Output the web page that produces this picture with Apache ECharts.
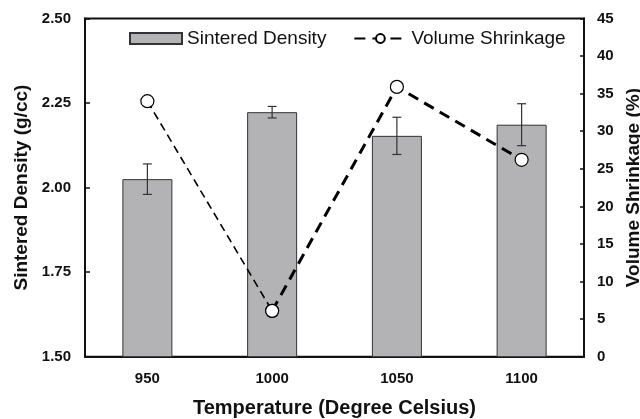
<!DOCTYPE html>
<html>
<head>
<meta charset="utf-8">
<script src="https://cdn.jsdelivr.net/npm/echarts@6/dist/echarts.min.js"></script>
<style>
  html, body { margin: 0; padding: 0; background: #fff; }
  #chart { width: 640px; height: 419px; }
</style>
</head>
<body>
<div id="chart"></div>
<script>
// Sintering temperatures (°C)
const temperatures = ['950', '1000', '1050', '1100'];
// Sintered density (g/cc) and its standard deviation
const density = [2.025, 2.223, 2.153, 2.186];
const densityErr = [0.045, 0.017, 0.055, 0.062];
// Volume shrinkage (%)
const shrinkage = [34.0, 6.1, 35.9, 26.2];

const FONT = '"Liberation Sans", Arial, Helvetica, sans-serif';

// Shrinkage line is drawn in two parts: a thin dashed first leg, heavier dashes after
const shrinkFirstLeg = shrinkage.map((v, i) => (i <= 1 ? v : null));
const shrinkRest = shrinkage.map((v, i) => (i >= 1 ? v : null));

const errorData = density.map((v, i) => [i, v - densityErr[i], v + densityErr[i]]);

const chart = echarts.init(document.getElementById('chart'), null, { renderer: 'canvas' });

const markerStyle = { color: '#fff', borderColor: '#000', borderWidth: 1.2 };

chart.setOption({
  backgroundColor: '#fff',
  animation: false,
  textStyle: { fontFamily: FONT },
  grid: {
    left: 85, right: 56, top: 18.5, bottom: 62.3,
    outerBoundsMode: 'none',
    containLabel: false,
    show: true, borderColor: '#111', borderWidth: 2, backgroundColor: 'transparent'
  },
  legend: {
    left: 124, top: 24,
    itemWidth: 52, itemHeight: 11, itemGap: 27,
    textStyle: { fontFamily: FONT, fontSize: 19, color: '#111' },
    data: [
      { name: 'Sintered Density', icon: 'rect' },
      { name: 'Volume Shrinkage' }
    ]
  },
  xAxis: {
    type: 'category',
    data: temperatures,
    name: 'Temperature (Degree Celsius)',
    nameLocation: 'middle',
    nameGap: 42,
    nameTextStyle: { fontFamily: FONT, fontSize: 20, fontWeight: 'bold', color: '#111' },
    axisLine: { lineStyle: { color: '#111', width: 2 } },
    axisTick: { inside: true, length: 5, lineStyle: { color: '#111', width: 1.5 } },
    axisLabel: { margin: 15, fontFamily: FONT, fontSize: 15, fontWeight: 'bold', color: '#111' }
  },
  yAxis: [
    {
      type: 'value',
      min: 1.5, max: 2.5, interval: 0.25,
      name: 'Sintered Density (g/cc)',
      nameLocation: 'middle',
      nameGap: 52,
      nameRotate: 90,
      nameTextStyle: { fontFamily: FONT, fontSize: 19, fontWeight: 'bold', color: '#111' },
      axisLine: { show: true, lineStyle: { color: '#111', width: 2 } },
      axisTick: { show: true, inside: true, length: 5, lineStyle: { color: '#111', width: 1.5 } },
      axisLabel: {
        margin: 14, fontFamily: FONT, fontSize: 15, fontWeight: 'bold', color: '#111',
        formatter: v => v.toFixed(2)
      },
      splitLine: { show: false }
    },
    {
      type: 'value',
      min: 0, max: 45, interval: 5,
      position: 'right',
      name: 'Volume Shrinkage (%)',
      nameLocation: 'middle',
      nameGap: 38,
      nameRotate: 90,
      nameTextStyle: { fontFamily: FONT, fontSize: 19, fontWeight: 'bold', color: '#111' },
      axisLine: { show: true, lineStyle: { color: '#111', width: 2 } },
      axisTick: { show: true, inside: true, length: 4, lineStyle: { color: '#111', width: 1.5 } },
      axisLabel: { margin: 13, fontFamily: FONT, fontSize: 15, fontWeight: 'bold', color: '#111' },
      splitLine: { show: false }
    }
  ],
  series: [
    {
      name: 'Sintered Density',
      type: 'bar',
      yAxisIndex: 0,
      barWidth: 50,
      data: density,
      itemStyle: { color: '#b3b3b5', borderColor: '#333', borderWidth: 1 },
      z: 2
    },
    {
      name: 'Density error',
      type: 'custom',
      yAxisIndex: 0,
      data: errorData,
      z: 3,
      renderItem: function (params, api) {
        const x = api.value(0);
        const lo = api.coord([x, api.value(1)]);
        const hi = api.coord([x, api.value(2)]);
        const half = 4.5;
        const style = { stroke: '#333', lineWidth: 1.2 };
        return {
          type: 'group',
          children: [
            { type: 'line', shape: { x1: lo[0], y1: lo[1], x2: hi[0], y2: hi[1] }, style },
            { type: 'line', shape: { x1: lo[0] - half, y1: lo[1], x2: lo[0] + half, y2: lo[1] }, style },
            { type: 'line', shape: { x1: hi[0] - half, y1: hi[1], x2: hi[0] + half, y2: hi[1] }, style }
          ]
        };
      }
    },
    {
      name: 'Volume Shrinkage first leg',
      type: 'line',
      yAxisIndex: 1,
      data: shrinkFirstLeg,
      symbol: 'circle',
      symbolSize: 13,
      itemStyle: markerStyle,
      lineStyle: { color: '#000', width: 1.6, type: [8, 5] },
      z: 4
    },
    {
      name: 'Volume Shrinkage',
      type: 'line',
      yAxisIndex: 1,
      data: shrinkRest,
      symbol: 'circle',
      symbolSize: 13,
      itemStyle: markerStyle,
      lineStyle: { color: '#000', width: 3, type: [11, 7] },
      z: 5
    }
  ]
});
</script>
</body>
</html>
